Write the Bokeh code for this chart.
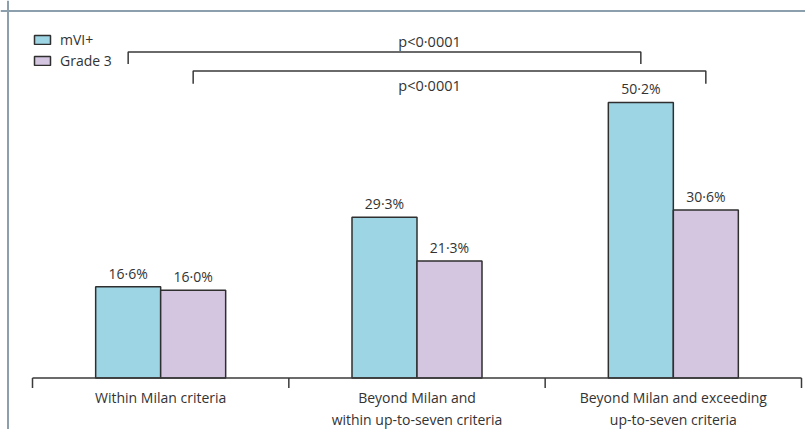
from bokeh.plotting import figure
from bokeh.models import Range1d, ColumnDataSource, Span, Legend, LegendItem
from bokeh.core.properties import value
from bokeh.embed import file_html
from bokeh.resources import INLINE

# ---------------- data ----------------
categories = [
    "Within Milan criteria",
    "Beyond Milan and\nwithin up-to-seven criteria",
    "Beyond Milan and exceeding\nup-to-seven criteria",
]
series_names = ["mVI+", "Grade 3"]
mvi_values = [16.6, 29.3, 50.2]
grade3_values = [16.0, 21.3, 30.6]
p_value_labels = ["p<0·0001", "p<0·0001"]


def fmt(v):
    return f"{v:.1f}".replace(".", "·") + "%"


# ---------------- layout ----------------
W, H = 805, 429
X0 = 32.0
CAT_PX = (801.0 - X0) / len(categories)
BASE_Y = 377.5
PX_PER_PCT = 5.49

x_start = -X0 / CAT_PX
x_end = x_start + W / CAT_PX
y_end = BASE_Y / PX_PER_PCT
y_start = y_end - H / PX_PER_PCT
BAR_W = 65.0 / CAT_PX

FONT_NAME = "Open Sans"
FONT = value(FONT_NAME)
TXT = "#333333"
MVI_COLOR = "#9dd5e4"
G3_COLOR = "#d4c5e0"
EDGE = "#2f2f2f"

p = figure(width=W, height=H, x_range=Range1d(x_start, x_end), y_range=Range1d(y_start, y_end),
           output_backend="svg", toolbar_location=None, min_border=0,
           x_axis_location=None, y_axis_location=None)
p.grid.visible = False
p.outline_line_color = None
p.background_fill_color = "white"

centres = [i + 0.5 for i in range(len(categories))]
mvi_x = [c - BAR_W / 2 for c in centres]
g3_x = [c + BAR_W / 2 for c in centres]

src_m = ColumnDataSource(dict(x=mvi_x, top=mvi_values, lab=[fmt(v) for v in mvi_values]))
src_g = ColumnDataSource(dict(x=g3_x, top=grade3_values, lab=[fmt(v) for v in grade3_values]))

r_m = p.vbar(x="x", top="top", bottom=0, width=BAR_W, source=src_m,
             fill_color=MVI_COLOR, line_color=EDGE, line_width=1.5)
r_g = p.vbar(x="x", top="top", bottom=0, width=BAR_W, source=src_g,
             fill_color=G3_COLOR, line_color=EDGE, line_width=1.5)

for s in (src_m, src_g):
    p.text(x="x", y="top", text="lab", source=s, text_align="center", text_baseline="bottom",
           y_offset=-4, text_font=FONT, text_font_size="14px", text_color=TXT)

# x axis: baseline, boundary ticks, category labels
n = len(categories)
p.segment(x0=[0], y0=[0], x1=[n], y1=[0], line_color="#3a3a3a", line_width=1.5)
bounds = list(range(n + 1))
p.segment(x0=bounds, y0=[0] * len(bounds), x1=bounds, y1=[-10 / PX_PER_PCT] * len(bounds),
          line_color="#3a3a3a", line_width=1.5)
p.text(x=centres, y=[0] * n, text=categories, text_align="center", text_baseline="top",
       y_offset=10, text_font=FONT, text_font_size="14px", text_color=TXT, text_line_height=1.15)

# significance brackets (mVI+ group1 vs group3, Grade 3 group1 vs group3)
b1_y, b1_drop = 59.38, 2.2
b2_y, b2_drop = 55.92, 2.3
xs = [[mvi_x[0], mvi_x[0], mvi_x[-1], mvi_x[-1]], [g3_x[0], g3_x[0], g3_x[-1], g3_x[-1]]]
ys = [[b1_y - b1_drop, b1_y, b1_y, b1_y - b1_drop], [b2_y - b2_drop, b2_y, b2_y, b2_y - b2_drop]]
p.multi_line(xs=xs, ys=ys, line_color="#3a3a3a", line_width=1.5)
p.text(x=[1.549, 1.549], y=[61.29, 53.28], text=p_value_labels, text_align="center",
       text_baseline="middle", text_font=FONT, text_font_size="14.5px", text_color=TXT)

# frame lines (top and left)
FRAME = "#8c9fac"
p.add_layout(Span(location=y_end - 10.5 / PX_PER_PCT, dimension="width", line_color=FRAME, line_width=2))
p.add_layout(Span(location=x_start + 7.5 / CAT_PX, dimension="height", line_color=FRAME, line_width=2))

legend = Legend(items=[LegendItem(label=series_names[0], renderers=[r_m]),
                       LegendItem(label=series_names[1], renderers=[r_g])],
                location=(32, H - 69.5), glyph_width=20, glyph_height=11, label_standoff=8,
                spacing=2, padding=0, margin=0, border_line_color=None, background_fill_alpha=0,
                label_text_font=FONT_NAME, label_text_font_size="14px", label_text_color=TXT)
p.add_layout(legend)

open("out.html", "w").write(file_html(p, INLINE))
